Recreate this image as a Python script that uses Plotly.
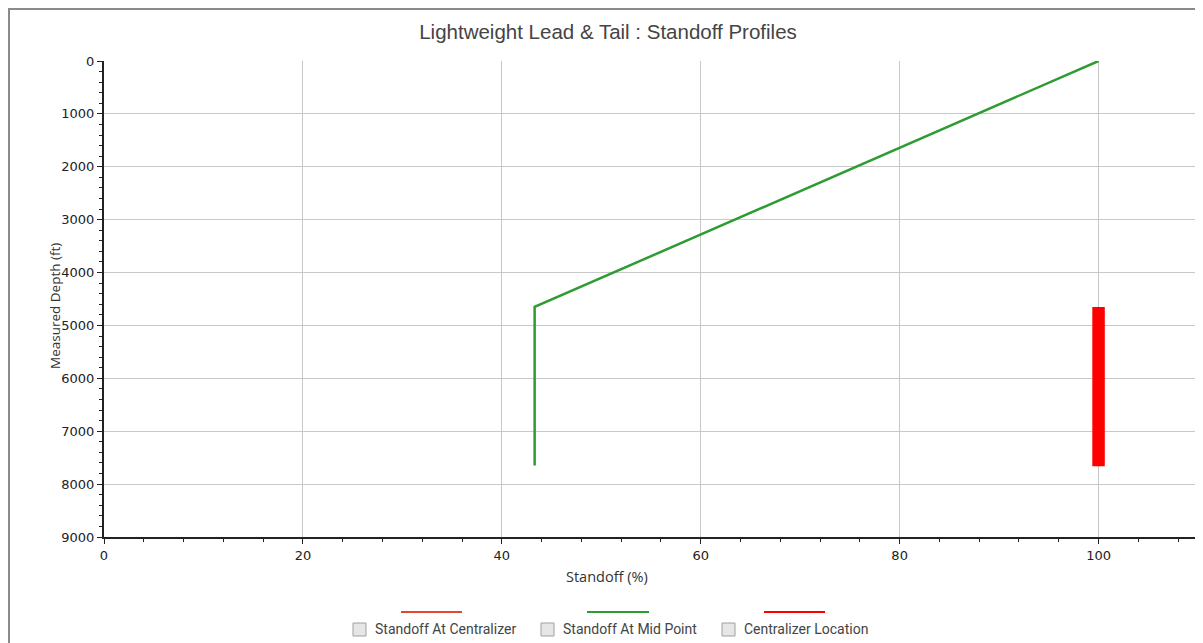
import plotly.graph_objects as go

# Data
mid_standoff = [100, 43.3, 43.3]          # Standoff At Mid Point (%)
mid_depth = [0, 4650, 7650]               # Measured depth (ft)
cent_standoff = [100, 100]                # Standoff At Centralizer (%)
cent_depth = [4650, 7660]
loc_standoff = [100, 100]                 # Centralizer Location
loc_depth = [4650, 7660]

x_ticks = [0, 20, 40, 60, 80, 100]
y_ticks = [0, 1000, 2000, 3000, 4000, 5000, 6000, 7000, 8000, 9000]
legend_names = ["Standoff At Centralizer", "Standoff At Mid Point", "Centralizer Location"]
legend_colors = ["#e8452c", "#2e9b33", "#ff0000"]

# page has an 8px body margin, so work in page pixels and shift
OFF = 8
W, H = 1203 - OFF, 643 - OFF
L, R, T, B = 104 - OFF, 1198 - OFF, 61 - OFF, 537 - OFF


def px_x(px):
    return (px - OFF - L) / (R - L)


def px_y(py):
    return (B - (py - OFF)) / (B - T)


fig = go.Figure()

fig.add_trace(go.Scatter(x=cent_standoff, y=cent_depth, mode="lines",
                         line=dict(color=legend_colors[0], width=2),
                         name=legend_names[0], showlegend=False))
fig.add_trace(go.Scatter(x=loc_standoff, y=loc_depth, mode="lines",
                         line=dict(color=legend_colors[2], width=12.5),
                         name=legend_names[2], showlegend=False))
fig.add_trace(go.Scatter(x=mid_standoff, y=mid_depth, mode="lines",
                         line=dict(color=legend_colors[1], width=2.5),
                         name=legend_names[1], showlegend=False))

shapes = [
    # outer frame of the chart control
    dict(type="rect", xref="paper", yref="paper",
         x0=px_x(9), x1=px_x(1260), y0=px_y(700), y1=px_y(9),
         line=dict(color="#8a8a8a", width=2), layer="below"),
    # right edge of plot area
    dict(type="line", xref="paper", yref="paper", x0=1, x1=1, y0=0, y1=1,
         line=dict(color="#c8c8c8", width=1), layer="below"),
]

# axis titles placed where the original has them
annotations = [
    dict(text="Standoff (%)", xref="paper", yref="paper",
         x=px_x(607), y=px_y(576), xanchor="center", yanchor="middle",
         showarrow=False, font=dict(family="Open Sans", size=14.5, color="#333")),
    dict(text="Measured Depth (ft)", xref="paper", yref="paper", textangle=-90,
         x=px_x(55), y=px_y(306), xanchor="center", yanchor="middle",
         showarrow=False, font=dict(family="Open Sans", size=13.5, color="#333")),
]

# custom legend: line sample above a checkbox + label
legend_pos = [(353, 401, 462), (541, 587, 649), (722, 764, 825)]
for name, color, (cb, l0, l1) in zip(legend_names, legend_colors, legend_pos):
    shapes.append(dict(type="line", xref="paper", yref="paper",
                       x0=px_x(l0), x1=px_x(l1), y0=px_y(612), y1=px_y(612),
                       line=dict(color=color, width=2)))
    shapes.append(dict(type="rect", xref="paper", yref="paper",
                       x0=px_x(cb), x1=px_x(cb + 13), y0=px_y(623), y1=px_y(636),
                       line=dict(color="#a0a0a0", width=1), fillcolor="#e6e6e6"))
    annotations.append(dict(text=name, xref="paper", yref="paper",
                            x=px_x(cb + 20), y=px_y(629), xanchor="left", yanchor="middle",
                            showarrow=False, font=dict(family="Roboto", size=14, color="#444")))

fig.update_layout(
    width=W, height=H,
    margin=dict(l=L, r=W - R, t=T, b=H - B),
    paper_bgcolor="white", plot_bgcolor="white",
    title=dict(text="Lightweight Lead & Tail : Standoff Profiles",
               x=(608 - OFF) / W, xanchor="center", xref="container",
               y=1 - (32 - OFF) / H, yref="container", yanchor="middle",
               font=dict(family="Liberation Sans", size=20.5, color="#444")),
    font=dict(family="DejaVu Sans", size=13, color="#222"),
    xaxis=dict(range=[0, 110], tickvals=x_ticks, showgrid=True, gridcolor="#c8c8c8",
               gridwidth=1, zeroline=False, showline=True, linecolor="#222", linewidth=2,
               ticks="outside", ticklen=5, tickcolor="#222",
               minor=dict(dtick=4, ticks="outside", ticklen=3, tickcolor="#222", showgrid=False)),
    yaxis=dict(range=[9000, 0], tickvals=y_ticks, showgrid=True, gridcolor="#c8c8c8",
               gridwidth=1, zeroline=False, showline=True, linecolor="#222", linewidth=2,
               ticks="outside", ticklen=5, tickcolor="#222",
               minor=dict(dtick=200, ticks="outside", ticklen=3, tickcolor="#222", showgrid=False)),
    shapes=shapes,
    annotations=annotations,
)

fig.write_html("out.html")
